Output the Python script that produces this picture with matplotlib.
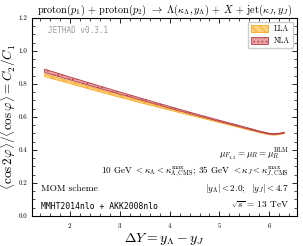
import matplotlib
matplotlib.use('Agg')
import matplotlib.pyplot as plt
import numpy as np

plt.rcParams['font.family'] = 'serif'
plt.rcParams['font.serif'] = ['cmr10', 'DejaVu Serif']
plt.rcParams['mathtext.fontset'] = 'cm'
plt.rcParams['axes.formatter.use_mathtext'] = True
plt.rcParams['hatch.linewidth'] = 0.6

# data
dY = [1.5, 2.0, 2.5, 3.0, 3.5, 4.0, 4.5, 5.0, 5.5, 5.8, 6.0, 6.1, 6.2, 6.3]
lla_lo = [0.845, 0.803, 0.761, 0.720, 0.680, 0.642, 0.604, 0.566, 0.528, 0.505, 0.492, 0.490, 0.493, 0.500]
lla_hi = [0.862, 0.818, 0.775, 0.733, 0.692, 0.652, 0.613, 0.574, 0.535, 0.512, 0.498, 0.496, 0.499, 0.506]
nla_lo = [0.870, 0.826, 0.782, 0.739, 0.697, 0.654, 0.613, 0.573, 0.533, 0.509, 0.496, 0.494, 0.497, 0.503]
nla_hi = [0.890, 0.843, 0.797, 0.752, 0.708, 0.664, 0.621, 0.580, 0.540, 0.515, 0.501, 0.499, 0.502, 0.508]

fig = plt.figure(figsize=(3.03, 2.46), dpi=100)
ax = fig.add_axes([0.106, 0.122, 0.874, 0.805])

ax.fill_between(dY, lla_lo, lla_hi, facecolor='#ffd27f', edgecolor='#f5a623',
                hatch='\\\\\\\\', linewidth=0.6, label='LLA', zorder=2)
ax.fill_between(dY, nla_lo, nla_hi, facecolor='#e8a0a0', edgecolor='#b5404a',
                hatch='....', linewidth=0.6, label='NLA', zorder=3)

ax.set_xlim(1.25, 6.55)
ax.set_ylim(0.0, 1.2)
ax.set_xticks([2, 3, 4, 5, 6])
ax.set_yticks([0.0, 0.2, 0.4, 0.6, 0.8, 1.0, 1.2])
ax.set_yticklabels(['0.0', '0.2', '0.4', '0.6', '0.8', '1.0', '1.2'])
ax.minorticks_on()
ax.tick_params(which='both', direction='in', top=True, right=True, labelsize=5)
ax.tick_params(which='major', length=3.5, width=0.6)
ax.tick_params(which='minor', length=2, width=0.5)
for s in ax.spines.values():
    s.set_linewidth(0.8)

ax.set_xlabel(r'$\Delta Y = y_\Lambda - y_J$', fontsize=10, labelpad=1)
ax.set_ylabel(r'$\langle \cos 2\varphi \rangle / \langle \cos \varphi \rangle = C_2/C_1$',
              fontsize=9.5, labelpad=0)
ax.set_title(r'proton$(p_1)$ + proton$(p_2)$ $\to$ $\Lambda(\kappa_\Lambda, y_\Lambda)$ + $X$ + jet$(\kappa_J, y_J)$',
             fontsize=7.4, pad=3)

ax.text(0.06, 0.96, 'JETHAD v0.3.1', transform=ax.transAxes, fontsize=5.5,
        family='DejaVu Sans Mono', color='#999999', va='top')
ax.text(0.035, 0.135, 'MOM scheme', transform=ax.transAxes, fontsize=6.8, va='center')
ax.text(0.035, 0.05, 'MMHT2014nlo + AKK2008nlo', transform=ax.transAxes, fontsize=5.8,
        family='DejaVu Sans Mono', va='center')
ax.text(0.97, 0.31, r'$\mu_{F_{1,2}} = \mu_R = \mu_R^{\rm BLM}$', transform=ax.transAxes,
        fontsize=6.5, ha='right', va='center')
ax.text(0.97, 0.225, r'10 GeV $< \kappa_\Lambda < \kappa^{\rm max}_{\Lambda,{\rm CMS}}$; 35 GeV $< \kappa_J < \kappa^{\rm max}_{J,{\rm CMS}}$',
        transform=ax.transAxes, fontsize=6.6, ha='right', va='center')
ax.text(0.97, 0.14, r'$|y_\Lambda| < 2.0;\ \ |y_J| < 4.7$', transform=ax.transAxes,
        fontsize=6.6, ha='right', va='center')
ax.text(0.97, 0.055, r'$\sqrt{s}$ = 13 TeV', transform=ax.transAxes,
        fontsize=6.8, ha='right', va='center')

ax.legend(loc='upper right', fontsize=5.5, handlelength=2.2, handleheight=1.0,
          borderpad=0.4, labelspacing=0.4, framealpha=1, edgecolor='#cccccc', fancybox=True)

fig.savefig('out.png', dpi=100)
